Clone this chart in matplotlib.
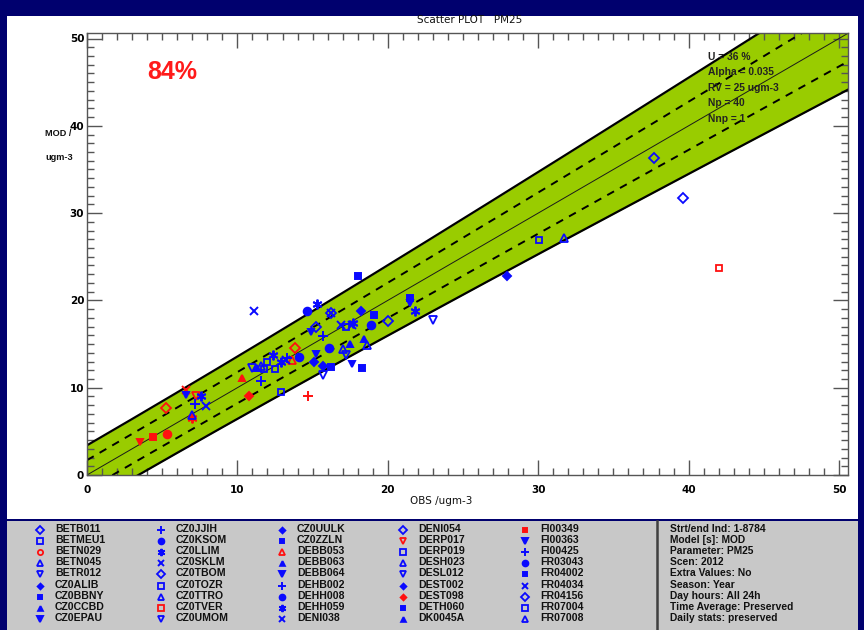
import matplotlib
matplotlib.use("Agg")
import matplotlib.pyplot as plt
import numpy as np
from matplotlib.patches import Rectangle

# ---------------- data ----------------
TITLE = "Scatter PLOT   PM25"
SCORE_TEXT = "84%"
STATS_LINES = ["U = 36 %", "Alpha = 0.035", "RV = 25 ugm-3", "Np = 40", "Nnp = 1"]
X_LABEL = "OBS /ugm-3"
Y_LABEL_LINES = ["MOD /", "ugm-3"]
TICKS = [0, 10, 20, 30, 40, 50]

# band half-widths: outer band (2U) and dashed (U)
BAND_HALF_AT_0 = 3.4
BAND_HALF_AT_50 = 6.4

OBS = [3.55, 4.4, 5.3, 5.25, 6.6, 7.25, 7.0, 10.3, 10.8, 14.7, 13.8, 13.6, 42.0,
       6.6, 7.6, 7.2, 7.9, 7.0, 11.1, 14.6, 15.3, 15.2, 14.9, 14.1, 15.1, 15.25,
       12.4, 12.9, 13.3, 12.0, 12.5, 11.0, 11.55, 12.9, 18.05, 16.2, 16.2, 18.2,
       19.1, 20.0, 18.9, 16.9, 17.6, 17.7, 17.2, 15.7, 21.45, 21.5, 21.8, 23.0,
       18.4, 18.65, 17.5, 17.0, 17.2, 17.6, 16.1, 16.2, 15.7, 15.7, 18.3, 11.6,
       11.3, 11.8, 13.2, 37.7, 39.6, 30.05, 31.7, 27.9]
MOD = [3.8, 4.4, 4.7, 7.7, 9.7, 9.0, 6.5, 11.1, 9.0, 9.0, 14.5, 13.2, 23.7,
       9.2, 9.0, 8.1, 7.9, 6.9, 18.8, 18.8, 19.6, 16.9, 16.4, 13.5, 13.0, 13.9,
       13.8, 13.0, 13.4, 12.9, 12.1, 12.3, 10.75, 9.5, 22.8, 18.5, 18.6, 18.8,
       18.3, 17.6, 17.2, 17.2, 17.2, 17.4, 16.9, 15.9, 20.3, 19.7, 18.8, 17.7,
       15.6, 14.9, 15.0, 14.4, 13.7, 12.7, 14.6, 12.4, 12.5, 11.5, 12.3, 12.5,
       12.3, 12.1, 13.2, 36.3, 31.7, 26.9, 27.1, 22.8]
PT_MARKER = ["fv", "fs", "fc", "od", "x", "ov", "*", "ft", "fd", "+", "od", "ot", "os",
             "fv", "*", "+", "x", "ot", "x", "fc", "*", "od", "fv", "fc", "fd", "fv",
             "*", "*", "+", "os", "os", "ov", "+", "os", "fs", "x", "od", "fd",
             "fs", "od", "fc", "x", "x", "*", "os", "+", "fs", "fv", "*", "ov",
             "ft", "ot", "ft", "ot", "ov", "fv", "fc", "fs", "fd", "ov", "fs", "ot",
             "ft", "os", "x", "od", "od", "os", "ot", "fd"]
PT_COLOR = ["r"] * 13 + ["b"] * 57

STATIONS = ["BETB011", "BETMEU1", "BETN029", "BETN045", "BETR012", "CZ0ALIB", "CZ0BBNY", "CZ0CCBD", "CZ0EPAU",
            "CZ0JJIH", "CZ0KSOM", "CZ0LLIM", "CZ0SKLM", "CZ0TBOM", "CZ0TOZR", "CZ0TTRO", "CZ0TVER", "CZ0UMOM",
            "CZ0UULK", "CZ0ZZLN", "DEBB053", "DEBB063", "DEBB064", "DEHB002", "DEHH008", "DEHH059", "DENI038",
            "DENI054", "DERP017", "DERP019", "DESH023", "DESL012", "DEST002", "DEST098", "DETH060", "DK0045A",
            "FI00349", "FI00363", "FI00425", "FR03043", "FR04002", "FR04034", "FR04156", "FR07004", "FR07008"]
STATION_MARKER = ["od", "os", "oc", "ot", "ov", "fd", "fs", "ft", "fv",
                  "+", "fc", "*", "x", "od", "os", "ot", "os", "ov",
                  "fd", "fs", "ot", "ft", "fv", "+", "fc", "*", "x",
                  "od", "ov", "os", "ot", "ov", "fd", "fd", "fs", "ft",
                  "fs", "fv", "+", "fc", "fs", "x", "od", "os", "ot"]
STATION_COLOR = ["b", "b", "r", "b", "b", "b", "b", "b", "b",
                 "b", "b", "b", "b", "b", "b", "b", "r", "b",
                 "b", "b", "r", "b", "b", "b", "b", "b", "b",
                 "b", "r", "b", "b", "b", "b", "r", "b", "b",
                 "r", "b", "b", "b", "b", "b", "b", "b", "b"]
INFO_LINES = ["Strt/end Ind: 1-8784", "Model [s]: MOD", "Parameter: PM25", "Scen: 2012",
              "Extra Values: No", "Season: Year", "Day hours: All 24h",
              "Time Average: Preserved", "Daily stats: preserved"]

# ---------------- styles ----------------
COLORS = {"b": "#0a0aff", "r": "#ff1010"}
NAVY = "#00006e"
GREEN = "#99cc00"
GRAY = "#c8c8c8"
NARROW = ["Liberation Sans Narrow", "DejaVu Sans"]
BOLD = ["Liberation Sans", "DejaVu Sans"]

MSTYLE = {
    "od": dict(marker="D", filled=False, ms=5.0),
    "os": dict(marker="s", filled=False, ms=5.0),
    "oc": dict(marker="o", filled=False, ms=5.0),
    "ot": dict(marker="^", filled=False, ms=5.5),
    "ov": dict(marker="v", filled=False, ms=5.5),
    "fd": dict(marker="D", filled=True, ms=3.8),
    "fs": dict(marker="s", filled=True, ms=4.0),
    "ft": dict(marker="^", filled=True, ms=4.5),
    "fv": dict(marker="v", filled=True, ms=5.0),
    "fc": dict(marker="o", filled=True, ms=5.5),
    "+": dict(marker="+", filled=True, ms=7.0),
    "x": dict(marker="x", filled=True, ms=6.0),
    "*": dict(marker=(6, 2, 0), filled=True, ms=7.0),
}


def draw_marker(ax, x, y, code, color, scale=1.0, **kw):
    st = MSTYLE[code]
    c = COLORS[color]
    if st["filled"]:
        ax.plot([x], [y], linestyle="none", marker=st["marker"], ms=st["ms"] * scale,
                mfc=c, mec=c, mew=1.4, **kw)
    else:
        ax.plot([x], [y], linestyle="none", marker=st["marker"], ms=st["ms"] * scale,
                mfc="none", mec=c, mew=1.3, **kw)


W, H = 864, 630
fig = plt.figure(figsize=(W / 100, H / 100), dpi=100, facecolor=NAVY)

# background axes in pixel coordinates
bg = fig.add_axes([0, 0, 1, 1], zorder=0)
bg.set_xlim(0, W)
bg.set_ylim(H, 0)
bg.axis("off")
bg.add_patch(Rectangle((7, 16), 851, 503, facecolor="white", edgecolor="none"))
bg.add_patch(Rectangle((7, 521), 851, 109, facecolor=GRAY, edgecolor="none"))
bg.plot([657, 657], [521, 630], color="#404040", lw=1.8)

# legend
ROW0, ROWSTEP = 529, 11.1
COL_X = [40, 161, 282, 403, 525]
for i, (name, mk, col) in enumerate(zip(STATIONS, STATION_MARKER, STATION_COLOR)):
    c, r = divmod(i, 9)
    y = ROW0 + r * ROWSTEP
    draw_marker(bg, COL_X[c], y + 1, mk, col, scale=0.75)
    bg.text(COL_X[c] + 15, y, name, fontsize=7.6, fontweight="bold", family=BOLD,
            color="#111111", va="center", ha="left")
for r, line in enumerate(INFO_LINES):
    bg.text(670, ROW0 + r * ROWSTEP, line, fontsize=7.4, fontweight="bold", family=BOLD,
            color="#111111", va="center", ha="left")

# title, axis labels (pixel coords)
bg.text(470, 20, TITLE, fontsize=7.5, family=NARROW, color="#111111", ha="center", va="center")
bg.text(441, 501, X_LABEL, fontsize=7.5, family=NARROW, color="#111111", ha="center", va="center")
bg.text(45, 134, Y_LABEL_LINES[0], fontsize=6.6, fontweight="bold", family=BOLD,
        color="#111111", ha="left", va="center")
bg.text(45, 157, Y_LABEL_LINES[1], fontsize=6.6, fontweight="bold", family=BOLD,
        color="#111111", ha="left", va="center")

# ---------------- main axes ----------------
L, R, T, B = 87, 848, 33, 475
ax = fig.add_axes([L / W, 1 - B / H, (R - L) / W, (B - T) / H], zorder=2)
ax.set_facecolor("white")
XMAX = 50 * (R - L) / (839 - 87)
YMAX = 50 * (B - T) / (B - 38.5)
ax.set_xlim(0, XMAX)
ax.set_ylim(0, YMAX)

o = np.linspace(0, XMAX, 400)
w_out = np.sqrt(BAND_HALF_AT_0 ** 2 + (BAND_HALF_AT_50 ** 2 - BAND_HALF_AT_0 ** 2) * (o / 50) ** 2)
w_in = w_out / 2
ax.fill_between(o, o - w_out, o + w_out, color=GREEN, lw=0, zorder=1)
ax.plot(o, o + w_out, color="black", lw=1.6, zorder=2)
ax.plot(o, o - w_out, color="black", lw=1.6, zorder=2)
ax.plot(o, o + w_in, color="black", lw=1.4, ls=(0, (4, 3.5)), zorder=2)
ax.plot(o, o - w_in, color="black", lw=1.4, ls=(0, (4, 3.5)), zorder=2)
ax.plot(o, o, color="#1a1a1a", lw=0.7, zorder=2)

for x, y, mk, col in zip(OBS, MOD, PT_MARKER, PT_COLOR):
    draw_marker(ax, x, y, mk, col, zorder=3)

fig.text(172 / W, 1 - 72 / H, SCORE_TEXT, fontsize=18, fontweight="bold", family=BOLD,
         color="#ff1a1a", ha="center", va="center", zorder=10)
for i, line in enumerate(STATS_LINES):
    fig.text(708 / W, 1 - (57 + i * 15.4) / H, line, fontsize=7.4, fontweight="bold",
             family=BOLD, color="#222222", ha="left", va="center", zorder=10)

ax.set_xticks(TICKS)
ax.set_yticks(TICKS)
ax.set_xticks(np.arange(0, 51, 1), minor=True)
ax.set_yticks(np.arange(0, 51, 1), minor=True)
ax.tick_params(which="both", direction="in", top=True, right=True, color="#555555", width=1.0)
ax.tick_params(which="major", length=11, labelsize=7.5)
ax.tick_params(axis="x", which="major", pad=7)
ax.tick_params(axis="y", which="major", pad=2)
ax.tick_params(which="minor", length=5)
for lab in ax.get_xticklabels() + ax.get_yticklabels():
    lab.set_fontfamily(NARROW)
    lab.set_fontweight("bold")
for s in ax.spines.values():
    s.set_color("#555555")
    s.set_linewidth(1.0)

fig.savefig("out.png", dpi=100, facecolor=NAVY)
